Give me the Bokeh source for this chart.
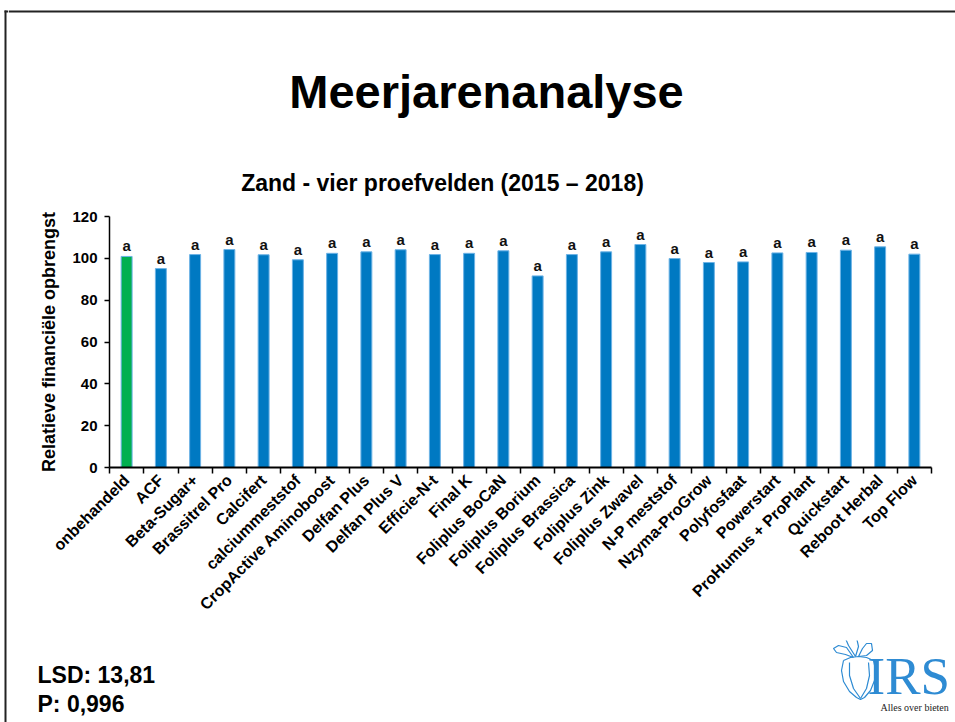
from math import pi
from bokeh.plotting import figure
from bokeh.layouts import column, row
from bokeh.models import FixedTicker, Range1d, ColumnDataSource
from bokeh.core.properties import value
from bokeh.embed import file_html
from bokeh.resources import INLINE

# ---------------- data ----------------
categories = ["onbehandeld", "ACF", "Beta-Sugar+", "Brassitrel Pro", "Calcifert",
              "calciummeststof", "CropActive Aminoboost", "Delfan Plus", "Delfan Plus V",
              "Efficie-N-t", "Final K", "Foliplus BoCaN", "Foliplus Borium",
              "Foliplus Brassica", "Foliplus Zink", "Foliplus Zwavel", "N-P meststof",
              "Nzyma-ProGrow", "Polyfosfaat", "Powerstart", "ProHumus + ProPlant",
              "Quickstart", "Reboot Herbal", "Top Flow"]
values = [100.9, 95.1, 101.8, 104.2, 101.7, 99.3, 102.4, 103.1, 104.1, 101.8, 102.4,
          103.6, 91.6, 101.8, 103.1, 106.6, 99.9, 98.0, 98.3, 102.6, 102.8, 103.9,
          105.5, 102.0]
letters = ["a"] * len(categories)
y_ticks = [0, 20, 40, 60, 80, 100, 120]
control = "onbehandeld"
title_text = "Meerjarenanalyse"
subtitle_text = "Zand - vier proefvelden (2015 – 2018)"
y_label = "Relatieve financiële opbrengst"
lsd_text = "LSD: 13,81"
p_text = "P: 0,996"
logo_text = "IRS"
logo_tag = "Alles over bieten"

# ---------------- styling / layout ----------------
FONT = value("Liberation Sans")
BLUE = "#0079C2"
GREEN = "#00B050"
LOGO = "#2E8BD3"
BORDER = "#222222"
PAGE_W, PAGE_H = 955, 722
STRIP_W = 8
MAIN_W = PAGE_W - STRIP_W
HEAD_H = 200
FOOT_H = 82
CHART_H = PAGE_H - HEAD_H - FOOT_H
BASE_FIX = 0.37   # renderer places alphabetic baseline ~0.37em lower


def canvas_fig(w, h):
    f = figure(width=w, height=h, x_range=Range1d(0, w), y_range=Range1d(h, 0),
               output_backend="svg", toolbar_location=None, x_axis_type=None,
               y_axis_type=None, min_border=0, outline_line_color=None,
               title_location=None, border_fill_color="white",
               background_fill_color="white", frame_align=False)
    f.grid.visible = False
    return f


def txt(f, s, x, y, size, align="left", color="#000000", font="Liberation Sans", style="bold"):
    f.text(x=[x], y=[y - BASE_FIX * size], text=[s], text_align=align,
           text_baseline="alphabetic", text_font=value(font), text_font_style=style,
           text_font_size=f"{size}px", text_color=color)


# ---- left strip with slide border ----
strip = canvas_fig(STRIP_W, PAGE_H)
strip.quad(left=[4], right=[6], top=[10], bottom=[PAGE_H], fill_color=BORDER, line_color=None)
strip.quad(left=[4], right=[STRIP_W], top=[10], bottom=[12], fill_color=BORDER, line_color=None)

# ---- header ----
head = canvas_fig(MAIN_W, HEAD_H)
head.quad(left=[0], right=[MAIN_W], top=[10], bottom=[12], fill_color=BORDER, line_color=None)
txt(head, title_text, 486 - STRIP_W, 108, 47, align="center")
txt(head, subtitle_text, 442 - STRIP_W, 191, 23, align="center")

# ---- chart ----
FL = 109 - STRIP_W
FR = PAGE_W - 931
FT = 216 - HEAD_H
FB = HEAD_H + CHART_H - 467

xpos = list(range(len(categories)))
colors = [GREEN if c == control else BLUE for c in categories]
src = ColumnDataSource(dict(x=xpos, top=values, color=colors, lab=letters))

p = figure(width=MAIN_W, height=CHART_H, x_range=Range1d(-0.5, len(categories) - 0.5),
           y_range=Range1d(0, 120), output_backend="svg", toolbar_location=None,
           min_border_left=FL, min_border_right=FR, min_border_top=FT,
           min_border_bottom=FB, outline_line_color=None, title_location=None,
           background_fill_color="white", border_fill_color="white", frame_align=False)
p.grid.visible = False

p.vbar(x="x", top="top", width=0.32, bottom=0, fill_color="color",
       line_color="#6DB3E6", line_width=1, source=src)
p.text(x="x", y="top", text="lab", source=src, text_align="center",
       text_baseline="bottom", y_offset=-2, text_font=FONT,
       text_font_style="bold", text_font_size="15px", text_color="#111111")

xa = p.xaxis[0]
xa.ticker = FixedTicker(ticks=xpos, minor_ticks=[i - 0.5 for i in range(len(categories) + 1)])
xa.major_label_overrides = {i: c for i, c in enumerate(categories)}
xa.major_label_orientation = pi / 4
xa.major_label_text_font = "Liberation Sans"
xa.major_label_text_font_style = "bold"
xa.major_label_text_font_size = "16px"
xa.major_label_text_color = "#000000"
xa.major_tick_line_color = None
xa.minor_tick_out = 6
xa.minor_tick_in = 0
xa.minor_tick_line_width = 1.5
xa.minor_tick_line_color = "#000000"
xa.axis_line_width = 2
xa.axis_line_color = "#000000"
xa.major_label_standoff = 4

ya = p.yaxis[0]
ya.ticker = FixedTicker(ticks=y_ticks)
ya.minor_tick_line_color = None
ya.major_tick_out = 5
ya.major_tick_in = 0
ya.major_tick_line_width = 1.5
ya.major_tick_line_color = "#000000"
ya.axis_line_width = 1.5
ya.axis_line_color = "#000000"
ya.major_label_text_font = "Liberation Sans"
ya.major_label_text_font_style = "bold"
ya.major_label_text_font_size = "15px"
ya.major_label_text_color = "#000000"
ya.major_label_standoff = 7
ya.axis_label = y_label
ya.axis_label_text_font = "Liberation Sans"
ya.axis_label_text_font_style = "bold"
ya.axis_label_text_font_size = "18px"
ya.axis_label_text_color = "#000000"
ya.axis_label_standoff = 10

# ---- footer ----
foot = canvas_fig(MAIN_W, FOOT_H)
Y0 = HEAD_H + CHART_H
txt(foot, lsd_text, 37 - STRIP_W, 683 - Y0, 23)
txt(foot, p_text, 37 - STRIP_W, 712 - Y0, 23)
txt(foot, logo_text, 867 - STRIP_W, 695 - Y0, 53, color=LOGO, font="Liberation Serif", style="normal")
txt(foot, logo_tag, 880 - STRIP_W, 711 - Y0, 10, color="#222222",
    font="Liberation Sans Narrow", style="normal")


def shape(pts, closed=True):
    if closed:
        pts = pts + pts[:1]
    foot.line(x=[a - STRIP_W for a, b in pts], y=[b - Y0 for a, b in pts],
              line_color=LOGO, line_width=1.2)


# IRS beet logo drawing
shape([(843, 660), (841, 670), (843, 681), (849, 691), (856, 697), (860, 699), (864, 697),
       (870, 690), (874, 680), (875, 669), (873, 660), (866, 657), (858, 656), (850, 657)])
shape([(849, 662), (849, 675), (853, 688), (860, 698)], closed=False)
shape([(868, 662), (869, 675), (866, 688), (860, 698)], closed=False)
shape([(853, 657), (845, 654), (836, 652), (833, 648), (838, 645), (846, 647)])
shape([(855, 656), (848, 645), (845, 638), (850, 635), (856, 637), (858, 646)])
shape([(858, 656), (862, 648), (866, 643), (871, 643), (872, 650), (866, 655)])

layout = row(strip, column(head, p, foot, spacing=0), spacing=0)
open("out.html", "w").write(file_html(layout, INLINE))
